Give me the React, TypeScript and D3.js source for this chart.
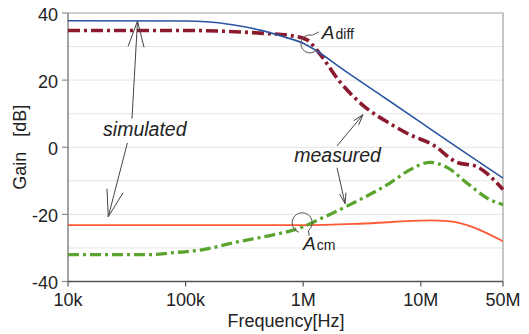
import React, {useRef, useEffect} from "react";
import * as d3 from "d3";

const width = 529;
const height = 334;
const margin = {top: 13, right: 26, bottom: 52, left: 68};

// frequency [Hz] and gain [dB]
const simDiffFreq = [1e4, 1e5, 1.5e5, 2.5e5, 4.3e5, 7e5, 1e6, 1.32e6, 2e6, 5e6, 1e7, 2e7, 5e7];
const simDiffGain = [37.7, 37.6, 37.4, 36.5, 34.9, 32.8, 31, 28.6, 24.1, 14.6, 7.4, 0.2, -9.2];

const measDiffFreq = [1e4, 1e5, 2e5, 4.3e5, 7.7e5, 1.08e6, 1.31e6, 2.05e6, 3.22e6, 5.5e6, 8.1e6, 1.27e7, 2e7, 3e7, 5e7];
const measDiffGain = [34.8, 34.8, 34.6, 34.0, 33.3, 32.0, 28.9, 19.5, 12.5, 7.0, 3.7, 0.7, -4.4, -5.8, -12.6];

const simCmFreq = [1e4, 1e5, 1e6, 3e6, 1.2e7, 1.7e7, 5e7];
const simCmGain = [-23.2, -23.2, -23.2, -22.8, -21.8, -22, -28];

const measCmFreq = [1e4, 5e4, 7.4e4, 1.41e5, 2.74e5, 5.22e5, 1e6, 1.31e6, 2.5e6, 5.5e6, 8.1e6, 1.2e7, 1.67e7, 2.46e7, 3.86e7, 5e7];
const measCmGain = [-32, -32, -31.5, -30.5, -28.2, -26.3, -23.7, -21.8, -17.1, -10.6, -6.7, -4.5, -6, -10.6, -15.6, -17.1];

const xTicks = [1e4, 1e5, 1e6, 1e7, 5e7];
const xTickLabels = ["10k", "100k", "1M", "10M", "50M"];
const yTicks = [-40, -20, 0, 20, 40];
const yGrid = [-30, -20, -10, 0, 10, 20, 30];

// annotations, in data units (freq, gain)
const textNotes = [
    {f: 4.5e4, g: 3.4, text: "simulated"},
    {f: 1.96e6, g: -4.3, text: "measured"},
];
// [fromF, fromG, toF, toG, headLength]
const arrows: [number, number, number, number, number][] = [
    [3.5e4, 8.5, 3.9e4, 37.6, 27],
    [3.2e4, 1.3, 2.2e4, -20.7, 28],
    [1.94e6, 0.4, 3.22e6, 9.7, 11],
    [1.94e6, -6.1, 2.27e6, -16.8, 11],
];

const font = "'Liberation Sans', Arial, Helvetica, sans-serif";

const GainChart: React.FC = () => {
    const ref = useRef<SVGSVGElement>(null);

    useEffect(() => {
        if (!ref.current) return;
        const svg = d3.select(ref.current);
        svg.selectAll("*").remove();

        const x = d3.scaleLog().domain([1e4, 5e7]).range([margin.left, width - margin.right]);
        const y = d3.scaleLinear().domain([-40, 40]).range([height - margin.bottom - 0.5, margin.top]);
        const [x0, x1] = x.range();
        const [y0, y1] = y.range();

        // grid
        svg.append("g").selectAll("line").data(yGrid).join("line")
            .attr("x1", x0).attr("x2", x1)
            .attr("y1", d => y(d)).attr("y2", d => y(d))
            .attr("stroke", "#e4e4e4").attr("stroke-width", 1);

        // frame (top / right)
        svg.append("path")
            .attr("d", `M${x0},${y1}H${x1}V${y0}`)
            .attr("fill", "none").attr("stroke", "#a0a0a0").attr("stroke-width", 1.2);

        // y axis
        const gy = svg.append("g");
        gy.append("line").attr("x1", x0).attr("x2", x0).attr("y1", y1).attr("y2", y0)
            .attr("stroke", "#8c8c8c").attr("stroke-width", 1.6);
        gy.selectAll("line.tick").data(yTicks).join("line").attr("class", "tick")
            .attr("x1", x0 - 6).attr("x2", x0)
            .attr("y1", d => y(d)).attr("y2", d => y(d))
            .attr("stroke", "#8c8c8c").attr("stroke-width", 1.2);
        gy.selectAll("text").data(yTicks).join("text")
            .attr("x", x0 - 10).attr("y", d => y(d) + 7.5)
            .attr("text-anchor", "end")
            .attr("font-family", font).attr("font-size", 18).attr("fill", "#222")
            .text(d => String(d));

        // x axis
        const gx = svg.append("g");
        gx.append("line").attr("x1", x0).attr("x2", x1).attr("y1", y0).attr("y2", y0)
            .attr("stroke", "#555").attr("stroke-width", 1.4);
        gx.selectAll("line.tick").data(xTicks).join("line").attr("class", "tick")
            .attr("x1", d => x(d)).attr("x2", d => x(d))
            .attr("y1", y0).attr("y2", y0 + 5)
            .attr("stroke", "#555").attr("stroke-width", 1.2);
        gx.selectAll("text").data(xTicks).join("text")
            .attr("x", d => x(d)).attr("y", y0 + 24)
            .attr("text-anchor", "middle")
            .attr("font-family", font).attr("font-size", 18).attr("fill", "#222")
            .text((d, i) => xTickLabels[i]);

        // axis titles
        svg.append("text")
            .attr("x", 286).attr("y", 327)
            .attr("text-anchor", "middle")
            .attr("font-family", font).attr("font-size", 18).attr("fill", "#222")
            .text("Frequency[Hz]");
        svg.append("text")
            .attr("transform", `translate(26,${(y0 + y1) / 2}) rotate(-90)`)
            .attr("text-anchor", "middle")
            .attr("font-family", font).attr("font-size", 18).attr("fill", "#222")
            .text("Gain\u00a0\u00a0\u00a0[dB]");

        // series
        const line = d3.line<[number, number]>()
            .x(d => x(d[0])).y(d => y(d[1]))
            .curve(d3.curveMonotoneX);
        const series = [
            {f: simCmFreq, g: simCmGain, color: "#ff5a36", w: 1.9, dash: null},
            {f: measCmFreq, g: measCmGain, color: "#5ba52f", w: 3.3, dash: "11,4,3,4"},
            {f: measDiffFreq, g: measDiffGain, color: "#8b1a2e", w: 3.6, dash: "12,4,3,4"},
            {f: simDiffFreq, g: simDiffGain, color: "#2a55a0", w: 1.6, dash: null},
        ];
        series.forEach(s => {
            svg.append("path")
                .datum(s.f.map((f, i) => [f, s.g[i]] as [number, number]))
                .attr("fill", "none")
                .attr("stroke", s.color)
                .attr("stroke-width", s.w)
                .attr("stroke-dasharray", s.dash)
                .attr("d", line);
        });

        // annotations
        const ann = svg.append("g").attr("fill", "none").attr("stroke", "#444").attr("stroke-width", 1);
        arrows.forEach(([fa, ga, fb, gb, hl]) => {
            const ax = x(fa), ay = y(ga), bx = x(fb), by = y(gb);
            const ang = Math.atan2(ay - by, ax - bx);
            const spread = 0.3;
            const p1 = [bx + hl * Math.cos(ang + spread), by + hl * Math.sin(ang + spread)];
            const p2 = [bx + hl * Math.cos(ang - spread), by + hl * Math.sin(ang - spread)];
            ann.append("path")
                .attr("d", `M${ax},${ay}L${bx},${by}M${p1[0]},${p1[1]}L${bx},${by}L${p2[0]},${p2[1]}`);
        });

        svg.selectAll("text.note").data(textNotes).join("text").attr("class", "note")
            .attr("x", d => x(d.f)).attr("y", d => y(d.g))
            .attr("text-anchor", "middle")
            .attr("font-family", font).attr("font-size", 19.5).attr("font-style", "italic").attr("fill", "#222")
            .text(d => d.text);

        // circled markers with A_diff / A_cm
        const arcPath = (cx: number, cy: number, r: number, a0: number, a1: number, tx: number, ty: number) => {
            const sx = cx + r * Math.cos(a0), sy = cy + r * Math.sin(a0);
            const ex = cx + r * Math.cos(a1), ey = cy + r * Math.sin(a1);
            return `M${tx},${ty}L${sx},${sy}A${r},${r} 0 1 0 ${ex},${ey}`;
        };
        const cd = [x(1.14e6), y(30.8)];
        ann.append("path").attr("stroke", "#555")
            .attr("d", arcPath(cd[0], cd[1], 9, -1.3, 0.7, cd[0] + 9, cd[1] - 12));
        const cc = [x(0.98e6), y(-22.5)];
        ann.append("path").attr("stroke", "#555")
            .attr("d", arcPath(cc[0], cc[1], 10, 0.9, 1.9, cc[0] + 7, cc[1] + 13));

        const sub = (f: number, g: number, main: string, s: string) => {
            const t = svg.append("text")
                .attr("x", x(f)).attr("y", y(g))
                .attr("font-family", font).attr("fill", "#222");
            t.append("tspan").attr("font-size", 19).attr("font-style", "italic").text(main);
            t.append("tspan").attr("font-size", 14).attr("dx", 1).text(s);
        };
        sub(1.44e6, 32.3, "A", "diff");
        sub(0.995e6, -30.5, "A", "cm");
    }, []);

    return <svg ref={ref} width={width} height={height}
                style={{position: "absolute", left: 0, top: 0, background: "#fff"}}/>;
};

export default function App() {
    return <GainChart/>;
}
